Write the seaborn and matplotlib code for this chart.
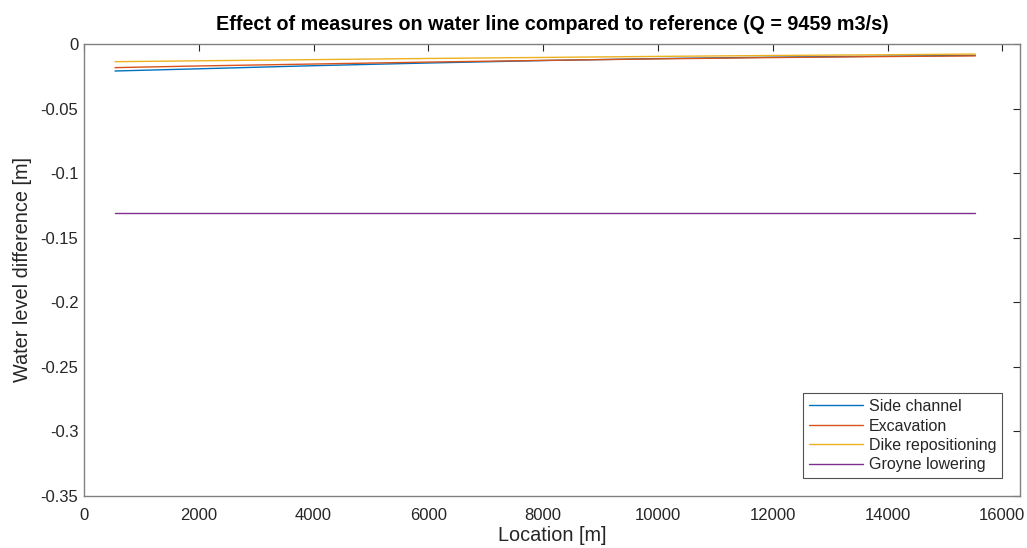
import matplotlib
matplotlib.use("Agg")
import matplotlib.pyplot as plt
import seaborn as sns
import pandas as pd
import numpy as np

location = [540, 2000, 4000, 6000, 8000, 10000, 12000, 14000, 15530]
side_channel = [-0.0209, -0.0192, -0.0168, -0.0147, -0.0128, -0.0113, -0.0102, -0.0094, -0.0088]
excavation = [-0.0183, -0.0170, -0.0155, -0.0140, -0.0127, -0.0115, -0.0105, -0.0097, -0.0092]
dike_repositioning = [-0.0137, -0.0130, -0.0121, -0.0112, -0.0104, -0.0096, -0.0089, -0.0083, -0.0078]
groyne_lowering = [-0.1310, -0.1310, -0.1310, -0.1310, -0.1310, -0.1310, -0.1310, -0.1310, -0.1310]
series_names = ["Side channel", "Excavation", "Dike repositioning", "Groyne lowering"]
colors = ["#0072BD", "#D95319", "#EDB120", "#7E2F8E"]

sns.set_theme(style="white")
plt.rcParams['font.family'] = ['Liberation Sans', 'DejaVu Sans']

rows = []
for name, vals in zip(series_names, [side_channel, excavation, dike_repositioning, groyne_lowering]):
    for x, y in zip(location, vals):
        rows.append({"Location": x, "Diff": y, "Measure": name})
df = pd.DataFrame(rows)

fig = plt.figure(figsize=(10.27, 5.48), dpi=100)
ax = fig.add_axes([0.0818, 0.0949, 0.9115, 0.8248])
sns.lineplot(data=df, x="Location", y="Diff", hue="Measure", palette=colors,
             hue_order=series_names, linewidth=1.0, ax=ax, legend=True)

ax.set_xlim(0, 16310)
ax.set_ylim(-0.35, 0)
ax.set_xticks(np.arange(0, 16001, 2000))
ax.set_yticks(np.arange(-0.35, 0.001, 0.05))
ax.set_yticklabels(["-0.35", "-0.3", "-0.25", "-0.2", "-0.15", "-0.1", "-0.05", "0"])
ax.tick_params(direction="in", length=5, width=0.8, colors="#262626", labelsize=12,
               top=True, right=True, labelcolor="#262626", pad=4)
ax.tick_params(axis='x', pad=9)
for s in ax.spines.values():
    s.set_color("#808080")
    s.set_linewidth(1.0)
ax.set_xlabel("Location [m]", fontsize=14.3, color="#262626", labelpad=2)
ax.set_ylabel("Water level difference [m]", fontsize=14.3, color="#262626", labelpad=6)
ax.set_title("Effect of measures on water line compared to reference (Q = 9459 m3/s)",
             fontsize=14.2, fontweight="bold", color="#000000", pad=10)
leg = ax.legend(loc="lower right", fontsize=11.5, frameon=True, fancybox=False,
                borderpad=0.35, labelspacing=0.28, handlelength=3.4, handletextpad=0.4,
                bbox_to_anchor=(0.9895, 0.022))
leg.get_frame().set_edgecolor("#262626")
leg.get_frame().set_linewidth(0.8)
fig.savefig("out.png", dpi=100)
